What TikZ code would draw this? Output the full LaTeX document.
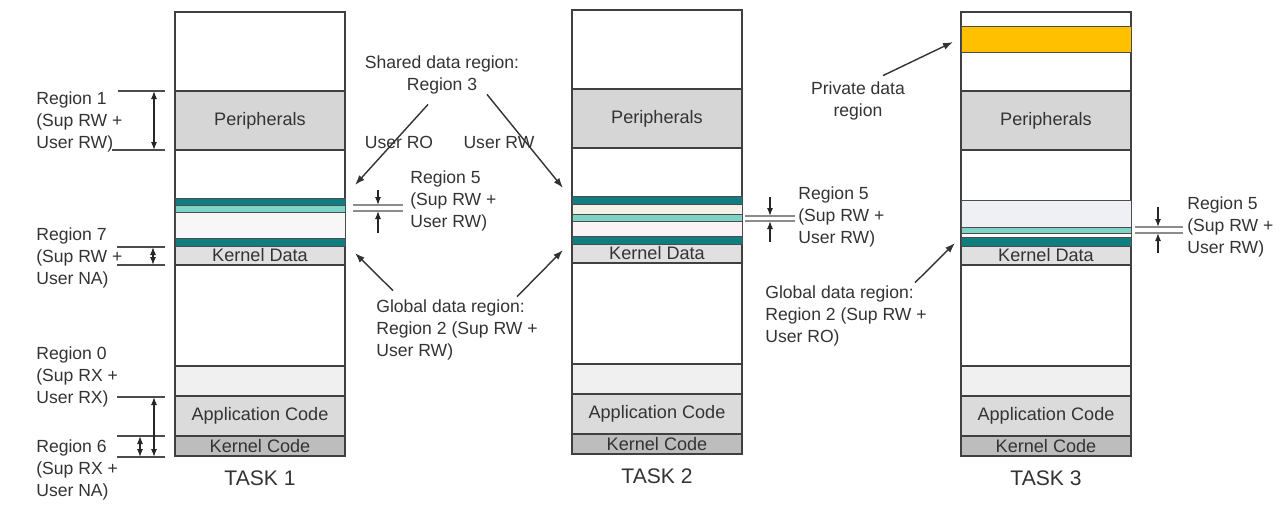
\documentclass[tikz,border=0pt]{standalone}
\usepackage{fontspec}
\setmainfont{Liberation Sans}
\usetikzlibrary{arrows.meta,calc}
\definecolor{tealdk}{RGB}{16,125,128}
\definecolor{cyanlt}{RGB}{125,212,198}
\definecolor{orangepd}{RGB}{255,192,0}
\definecolor{beigelt}{RGB}{242,242,232}
\definecolor{pinklt}{RGB}{250,242,244}
\definecolor{graylt}{RGB}{238,240,244}
\tikzset{
  seg/.style={draw=black!75, line width=0.8pt, inner sep=0pt, minimum width=3.4cm, text=black!80, font=\fontsize{10.3}{12}\selectfont},
  colbox/.style={seg, fill=white, minimum height=8.88cm},
  perbox/.style={seg, fill=black!16, minimum height=1.18cm},
  kdbox/.style={seg, fill=black!12, minimum height=0.38cm},
  emptybox/.style={seg, fill=black!6, minimum height=0.6cm},
  appbox/.style={seg, fill=black!14, minimum height=0.8cm},
  kcbox/.style={seg, fill=black!26, minimum height=0.4cm},
  band/.style={draw=black!70, line width=0.5pt, fill=#1},
  lbl/.style={align=left, inner sep=0pt, text=black!80, font=\fontsize{10}{12.4}\selectfont},
  tasklbl/.style={inner sep=0pt, text=black!80, font=\fontsize{12}{14}\selectfont},
  arr/.style={-{Latex[length=2mm,width=1.4mm]}, line width=0.8pt, black!80},
  dimarr/.style={{Latex[length=1.6mm,width=1.2mm]}-{Latex[length=1.6mm,width=1.2mm]}, line width=0.7pt, black!85},
  onearr/.style={-{Latex[length=1.6mm,width=1.2mm]}, line width=0.7pt, black!85},
  tick/.style={line width=0.6pt, black!70},
  dbl/.style={line width=0.6pt, black!45}
}
\begin{document}
\begin{tikzpicture}[x=0.02cm, y=-0.02cm]
\useasboundingbox (0,0) rectangle (1284,504);

% the three task memory maps
\foreach \cx/\cy/\nm/\tsk in {175/0/a/TASK 1, 572/-2/b/TASK 2, 961/0/c/TASK 3}{
  \node[colbox] (col\nm) at (\cx+85,234+\cy) {};
  \node[perbox] (per\nm) at (\cx+85,120.5+\cy) {Peripherals};
  \node[kdbox] (kd\nm) at (\cx+85,255.5+\cy) {Kernel Data};
  \node[emptybox] (free\nm) at (\cx+85,381+\cy) {};
  \node[appbox] (app\nm) at (\cx+85,416+\cy) {Application Code};
  \node[kcbox] (kc\nm) at (\cx+85,446+\cy) {Kernel Code};
  \node[tasklbl] (task\nm) at (\cx+85,478+\cy) {\tsk};
}

% data bands, task 1
\draw[band=tealdk] (175,198) rectangle (345,205);
\draw[band=cyanlt] (175,205) rectangle (345,212);
\draw[band=black!3] (175,212) rectangle (345,238);
\draw[band=tealdk] (175,238) rectangle (345,246);
% task 2
\draw[band=tealdk] (572,196) rectangle (742,204);
\draw[band=beigelt] (572,204) rectangle (742,214);
\draw[band=cyanlt] (572,214) rectangle (742,221);
\draw[band=pinklt] (572,221) rectangle (742,236);
\draw[band=tealdk] (572,236) rectangle (742,244);
% task 3
\draw[band=orangepd] (961,26) rectangle (1131,52);
\draw[band=graylt] (961,200) rectangle (1131,227);
\draw[band=cyanlt] (961,227) rectangle (1131,233);
\draw[band=white] (961,233) rectangle (1131,237);
\draw[band=tealdk] (961,237) rectangle (1131,246);

% region labels on the left
\node[lbl, anchor=west] (reg1) at (36,122) {Region 1\\(Sup RW +\\User RW)};
\node[lbl, anchor=west] (reg7) at (36,258) {Region 7\\(Sup RW +\\User NA)};
\node[lbl, anchor=west] (reg0) at (36,377) {Region 0\\(Sup RX +\\User RX)};
\node[lbl, anchor=west] (reg6) at (36,470) {Region 6\\(Sup RX +\\User NA)};

\coordinate (r1t) at (154,91);  \coordinate (r1b) at (154,150);
\coordinate (r7t) at (153,247); \coordinate (r7b) at (153,265);
\coordinate (r0t) at (154,397); \coordinate (r0b) at (154,457);
\coordinate (r6t) at (140,436); \coordinate (r6b) at (140,457);
\draw[tick] (118,91) -- (165,91);
\draw[tick] (112,150) -- (165,150);
\draw[tick] (117,247) -- (165,247);
\draw[tick] (117,265) -- (165,265);
\draw[tick] (117,397) -- (165,397);
\draw[tick] (117,436) -- (165,436);
\draw[tick] (117,457) -- (165,457);
\draw[dimarr] (r1t) -- (r1b);
\draw[dimarr] (r7t) -- (r7b);
\draw[dimarr] (r0t) -- (r0b);
\draw[dimarr] (r6t) -- (r6b);

% shared and global data labels
\node[lbl, align=center] (shared) at (442,75) {Shared data region:\\Region 3};
\node[lbl] (userro) at (399,142) {User RO};
\node[lbl] (userrw) at (499,143) {User RW};
\coordinate (ro) at (355,185);
\coordinate (rw) at (563,188);
\draw[arr] ($(shared.south)+(-14,10)$) -- (ro);
\draw[arr] ($(shared.south)+(45,0)$) -- (rw);

\node[lbl, anchor=west] (glob1) at (376,330) {Global data region:\\Region 2 (Sup RW +\\User RW)};
\coordinate (g1) at (355,253);
\coordinate (g2) at (563,250);
\draw[arr] ($(glob1.north west)+(17,-9)$) -- (g1);
\draw[arr] ($(glob1.north west)+(141,-3)$) -- (g2);

\node[lbl, align=center] (priv) at (858,101) {Private data\\region};
\coordinate (pd) at (953,42);
\draw[arr] ($(priv.north)+(25,-6)$) -- (pd);

\node[lbl, anchor=west] (glob3) at (765,316) {Global data region:\\Region 2 (Sup RW +\\User RO)};
\coordinate (g3) at (955,243);
\draw[arr] ($(glob3.north west)+(150,-3)$) -- (g3);

% region 5 markers
\node[lbl, anchor=west] (r5a) at (410,201) {Region 5\\(Sup RW +\\User RW)};
\node[lbl, anchor=west] (r5b) at (798,217) {Region 5\\(Sup RW +\\User RW)};
\node[lbl, anchor=west] (r5c) at (1187,227) {Region 5\\(Sup RW +\\User RW)};

\draw[dbl] (353,205) -- (403,205);
\draw[dbl] (353,211) -- (403,211);
\draw[onearr] (378,190) -- (378,205);
\draw[onearr] (378,233) -- (378,211);

\draw[dbl] (745,216) -- (795,216);
\draw[dbl] (745,221) -- (795,221);
\draw[onearr] (770,197) -- (770,216);
\draw[onearr] (770,242) -- (770,221);

\draw[dbl] (1135,227) -- (1183,227);
\draw[dbl] (1135,233) -- (1183,233);
\draw[onearr] (1158,207) -- (1158,227);
\draw[onearr] (1158,253) -- (1158,233);
\end{tikzpicture}
\end{document}
